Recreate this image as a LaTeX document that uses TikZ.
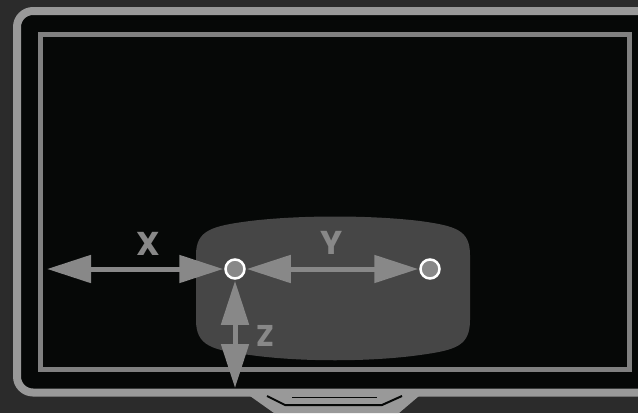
\documentclass[tikz,border=0pt]{standalone}
\usepackage{fontspec}
\newfontfamily\labelfont{Poppins}
\usetikzlibrary{arrows.meta}
\definecolor{bgdark}{HTML}{2B2B2B}
\definecolor{bezel}{HTML}{999999}
\definecolor{screenline}{HTML}{808080}
\definecolor{screen}{HTML}{060807}
\definecolor{mount}{HTML}{464646}
\definecolor{guide}{HTML}{888888}

\begin{document}
\begin{tikzpicture}[x=1pt,y=-1pt,>={Triangle[length=44pt,width=27pt]},
  pivot/.style={circle,draw=white,fill=guide,line width=2.5pt,minimum size=19pt,inner sep=0pt},
  guidearrow/.style={<->,guide,line width=5pt,shorten <=1pt,shorten >=1pt},
  axislabel/.style={text=guide,inner sep=0pt,font={\labelfont\bfseries\fontsize{33}{33}\selectfont}}]
\useasboundingbox (0,0) rectangle (638,413);
\fill[bgdark] (0,0) rectangle (638,413);
% frame and stand
\fill[bezel] (250,396) -- (419,396) -- (399,413) -- (274,413) -- cycle;
\draw[bezel,line width=8pt,fill=screen,rounded corners=16pt] (17,11) rectangle (660,392.5);
\draw[screen,line width=2pt,line join=round] (267,396) -- (285,405) -- (382,405) -- (402,396);
\draw[screen,line width=1pt] (292,397.5) -- (377,397.5);
\draw[screenline,line width=5pt] (40.5,34.5) rectangle (629.5,369.5);
% mounting plate
\fill[mount] (196,300) -- (196,255) .. controls (196,230) and (212,226) .. (250,221)
  .. controls (300,215) and (370,215) .. (420,221) .. controls (456,226) and (470,230) .. (470,255)
  -- (470,320) .. controls (470,346) and (456,350) .. (420,355)
  .. controls (370,362) and (300,362) .. (250,355) .. controls (212,350) and (196,346) .. (196,320) -- cycle;
% pivots and distances
\node[pivot] (p1) at (235,269) {};
\node[pivot] (p2) at (430,269) {};
\coordinate (xend) at (46,269);
\coordinate (zend) at (235,389);
\draw[guidearrow] (xend) -- (p1.west);
\draw[guidearrow] (p1.east) -- (p2.west);
\draw[guidearrow] (p1.south) -- (zend);
\node[axislabel] (xlab) at (148,244) {X};
\node[axislabel] (ylab) at (332,243) {Y};
\node[axislabel,font={\labelfont\bfseries\fontsize{30}{30}\selectfont}] (zlab) at (265,336) {Z};
\end{tikzpicture}
\end{document}
